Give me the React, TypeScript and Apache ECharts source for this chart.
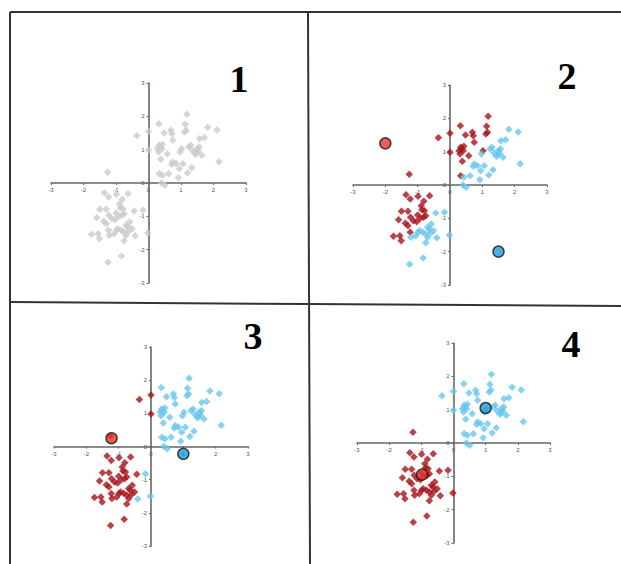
import React, { useEffect, useRef } from "react";
import * as echarts from "echarts";

// Shared data set (same points in all four panels)
const upperPoints: [number, number][] = [
  [1.18, 2.06], [0.32, 1.78], [1.13, 1.76], [0.69, 1.58], [0.48, 1.5], [0.72, 1.48], [1.11, 1.53], [1.16, 1.58],
  [0.0, 1.55], [-0.36, 1.42], [1.82, 1.67], [2.11, 1.59], [1.57, 1.33], [1.72, 1.36], [0.75, 1.28], [0.33, 1.13],
  [0.43, 1.16], [0.41, 1.03], [0.28, 1.03], [0.31, 0.93], [0.0, 0.98], [1.02, 1.03], [0.97, 0.93], [1.24, 1.08],
  [1.3, 1.13], [1.36, 0.96], [1.49, 1.03], [1.56, 1.08], [1.53, 0.96], [1.44, 0.86], [1.64, 0.83], [0.58, 0.88],
  [0.38, 0.71], [0.75, 0.63], [0.72, 0.56], [0.85, 0.58], [1.06, 0.58], [0.95, 0.43], [1.33, 0.46], [2.17, 0.64],
  [0.33, 0.28], [0.43, 0.23], [0.62, 0.28], [1.2, 0.3], [0.92, 0.16], [0.4, 0.0], [0.5, -0.07], [0.36, 1.08],
  [1.48, 0.91],
];
const lowerPoints: [number, number][] = [
  [-1.26, 0.32], [-1.36, -0.29], [-1.23, -0.42], [-0.99, -0.34], [-0.81, -0.49], [-0.63, -0.32], [-0.89, -0.62],
  [-0.87, -0.74], [-0.79, -0.77], [-0.75, -0.92], [-0.82, -0.97], [-1.5, -0.79], [-1.3, -0.79], [-0.44, -0.84],
  [-0.17, -0.82], [-1.59, -1.04], [-1.22, -0.97], [-1.13, -1.07], [-1.03, -1.1], [-1.38, -1.15], [-1.3, -1.22],
  [-0.58, -1.17], [-0.69, -1.27], [-0.64, -1.32], [-0.51, -1.37], [-0.94, -1.37], [-0.84, -1.42], [-1.23, -1.42],
  [-1.06, -1.52], [-1.21, -1.57], [-0.75, -1.47], [-0.69, -1.57], [-1.55, -1.52], [-1.75, -1.54], [-1.51, -1.67],
  [-0.99, -1.42], [-0.41, -1.58], [-0.75, -1.73], [-0.02, -1.5], [-0.83, -2.19], [-1.25, -2.38], [-0.92, -1.0],
  [-0.6, -1.45], [-1.0, -0.9],
];

// Cluster assignment (R = red, B = blue), upper points then lower points
const labels2 =
  "RRRRRRRRRR" + "BBBB" + "RRRRRRRR" + "BBBBBBBBB" + "RR" + "BBBBBBB" + "R" + "BBBBBB" + "RB" +
  "RRRRRRRRRRRRR" + "BB" + "RRRRRR" + "BBBBBB" + "R" + "BBBB" + "RRR" + "BBBBBB" + "RBR";
const labels3 =
  "BBBBBBBB" + "RR" + "BBBBBBBBBB" + "R" + "BBBBBBBBBBBBBBBBBBBBBBBBBBBB" +
  "RRRRRRRRRRRRRR" + "B" + "RRRRRRRRRRRRRRRRRRRRR" + "B" + "R" + "B" + "RRRRR";
const labels4 =
  "BBBBBBBBBBBBBBBBBBBBBBBBBBBBBBBBBBBBBBBBBBBBBBBBB" +
  "RRRRRRRRRRRRRRRRRRRRRRRRRRRRRRRRRRRRRRRRRRRR";

// Centroids per panel: [red, blue]
const centroids2: [number, number][] = [[-2.0, 1.25], [1.5, -2.0]];
const centroids3: [number, number][] = [[-1.22, 0.25], [1.0, -0.22]];
const centroids4: [number, number][] = [[-0.98, -0.95], [1.0, 1.05]];

const panelTitles = ["1", "2", "3", "4"];
const axisTicks = [-3, -2, -1, 0, 1, 2, 3];

const GRAY = "#cacaca";
const RED = "#a8121a";
const BLUE = "#69c6ee";
const CRED = "#e8332c";
const CBLUE = "#1c9bd8";

export default function App() {
  const ref = useRef<HTMLDivElement>(null);
  useEffect(() => {
    if (!ref.current) return;
    const chart = echarts.init(ref.current, undefined, { renderer: "svg" });
    const allPoints = [...upperPoints, ...lowerPoints];
    const grids = [
      { left: 51, top: 83, width: 195, height: 200 },
      { left: 353, top: 85, width: 194, height: 200 },
      { left: 54, top: 347, width: 194, height: 199 },
      { left: 357, top: 343, width: 193, height: 200 },
    ];
    const axisCommon = {
      type: "value" as const,
      min: axisTicks[0],
      max: axisTicks[axisTicks.length - 1],
      interval: 1,
      splitLine: { show: false },
      axisLine: { show: true, onZero: false, lineStyle: { color: "#666666", width: 1.6 } },
      axisTick: { show: true, length: 2, lineStyle: { color: "#666666", width: 1 } },
      axisLabel: { fontSize: 6, color: "#555555", margin: 4, fontFamily: "Liberation Sans", hideOverlap: false },
    };
    const xAxes = grids.map((g, i) => ({
      ...axisCommon, gridIndex: i, position: "bottom", offset: -g.height / 2,
    }));
    const yAxes = grids.map((g, i) => ({
      ...axisCommon, gridIndex: i, position: "left", offset: -g.width / 2,
    }));
    const series: any[] = [];
    series.push({
      type: "scatter", xAxisIndex: 0, yAxisIndex: 0, symbol: "diamond", symbolSize: 7.5,
      itemStyle: { color: GRAY }, data: allPoints,
    });
    const labelSets = [labels2, labels3, labels4];
    const cents = [centroids2, centroids3, centroids4];
    labelSets.forEach((lab, k) => {
      const idx = k + 1;
      const reds = allPoints.filter((_, j) => lab[j] === "R");
      const blues = allPoints.filter((_, j) => lab[j] === "B");
      series.push({
        type: "scatter", xAxisIndex: idx, yAxisIndex: idx, symbol: "diamond", symbolSize: 7.5,
        itemStyle: { color: RED }, data: reds,
      });
      series.push({
        type: "scatter", xAxisIndex: idx, yAxisIndex: idx, symbol: "diamond", symbolSize: 7.5,
        itemStyle: { color: BLUE }, data: blues,
      });
      series.push({
        type: "scatter", xAxisIndex: idx, yAxisIndex: idx, symbol: "circle", symbolSize: 11, z: 5,
        data: [
          { value: cents[k][0], itemStyle: { color: CRED, borderColor: "#1a1a1a", borderWidth: 1.5 } },
          { value: cents[k][1], itemStyle: { color: CBLUE, borderColor: "#1a1a1a", borderWidth: 1.5 } },
        ],
      });
    });
    const titlePos = [[239, 79], [567, 76], [253, 336], [571, 344]];
    const lineStyle = { stroke: "#333", lineWidth: 2 };
    const graphic: any[] = [
      { type: "line", shape: { x1: 10, y1: 12, x2: 621, y2: 12 }, style: lineStyle },
      { type: "line", shape: { x1: 10, y1: 12, x2: 10, y2: 564 }, style: lineStyle },
      { type: "line", shape: { x1: 308, y1: 12, x2: 310, y2: 564 }, style: lineStyle },
      { type: "line", shape: { x1: 10, y1: 302, x2: 309, y2: 304 }, style: lineStyle },
      { type: "line", shape: { x1: 309, y1: 304, x2: 621, y2: 306 }, style: lineStyle },
      ...panelTitles.map((t, i) => ({
        type: "text", x: titlePos[i][0], y: titlePos[i][1],
        style: {
          text: t, fill: "#000", font: "bold 38px 'Liberation Serif'",
          align: "center", verticalAlign: "middle",
        },
      })),
    ];
    chart.setOption({
      animation: false,
      backgroundColor: "#fff",
      grid: grids,
      xAxis: xAxes,
      yAxis: yAxes,
      series,
      graphic,
    });
    return () => chart.dispose();
  }, []);
  return <div ref={ref} style={{ position: "absolute", left: 0, top: 0, width: 621, height: 564 }} />;
}
